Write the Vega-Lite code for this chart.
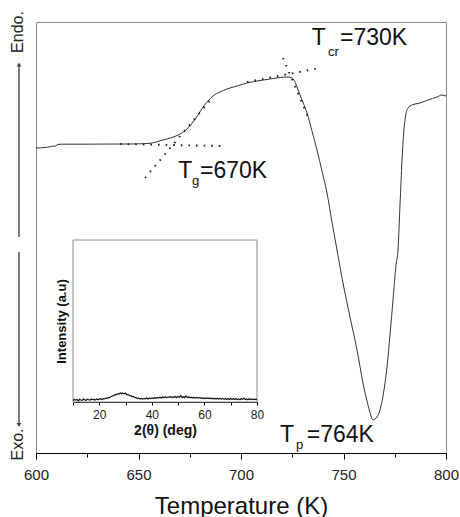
{
  "$schema": "https://vega.github.io/schema/vega-lite/v6.json",
  "width": 410,
  "height": 431,
  "autosize": {"type": "none"},
  "padding": {"left": 36, "top": 22, "right": 14, "bottom": 64},
  "background": "white",
  "config": {
    "view": {"stroke": "#8c8c8c", "strokeWidth": 1},
    "font": "Liberation Sans",
    "axis": {"grid": false, "labelFont": "Liberation Sans", "titleFont": "Liberation Sans", "labelFlush": false, "labelOverlap": false}
  },
  "datasets": {
    "dsc": [
      {"T": 600.0, "v": 305}, {"T": 604.39, "v": 305.5}, {"T": 606.83, "v": 306.2}, {"T": 608.29, "v": 307},
      {"T": 609.27, "v": 306.7}, {"T": 610.24, "v": 308}, {"T": 611.22, "v": 308.7}, {"T": 612.68, "v": 308.8},
      {"T": 621.46, "v": 308.8}, {"T": 631.22, "v": 308.9}, {"T": 640.98, "v": 309}, {"T": 645.85, "v": 309},
      {"T": 650.73, "v": 309.2}, {"T": 655.61, "v": 309.7}, {"T": 659.02, "v": 311.2}, {"T": 661.95, "v": 313},
      {"T": 666.34, "v": 315.5}, {"T": 670.24, "v": 319}, {"T": 673.66, "v": 324}, {"T": 676.59, "v": 331},
      {"T": 679.02, "v": 338}, {"T": 681.46, "v": 346}, {"T": 683.9, "v": 352}, {"T": 686.34, "v": 357},
      {"T": 689.76, "v": 361}, {"T": 693.17, "v": 364}, {"T": 698.05, "v": 367}, {"T": 702.93, "v": 370},
      {"T": 709.27, "v": 372.5}, {"T": 714.15, "v": 374}, {"T": 719.02, "v": 375.5}, {"T": 722.44, "v": 376},
      {"T": 724.39, "v": 375.5}, {"T": 725.85, "v": 373}, {"T": 727.32, "v": 366}, {"T": 728.78, "v": 358},
      {"T": 729.76, "v": 353}, {"T": 732.2, "v": 340}, {"T": 734.63, "v": 322}, {"T": 737.07, "v": 303},
      {"T": 739.51, "v": 282}, {"T": 741.95, "v": 260}, {"T": 744.39, "v": 231}, {"T": 746.83, "v": 203},
      {"T": 749.76, "v": 170}, {"T": 753.17, "v": 136}, {"T": 756.59, "v": 103}, {"T": 759.51, "v": 70},
      {"T": 761.95, "v": 48}, {"T": 763.41, "v": 37}, {"T": 764.39, "v": 33}, {"T": 765.37, "v": 34},
      {"T": 766.34, "v": 36}, {"T": 767.8, "v": 43}, {"T": 769.76, "v": 63}, {"T": 771.22, "v": 86},
      {"T": 772.68, "v": 118}, {"T": 774.15, "v": 153}, {"T": 775.61, "v": 188}, {"T": 776.59, "v": 203},
      {"T": 777.56, "v": 248}, {"T": 778.54, "v": 293}, {"T": 779.27, "v": 318}, {"T": 780.0, "v": 333},
      {"T": 781.46, "v": 345}, {"T": 783.41, "v": 348}, {"T": 787.32, "v": 350}, {"T": 791.22, "v": 353},
      {"T": 795.61, "v": 356}, {"T": 798.05, "v": 358}, {"T": 799.0, "v": 357.5}, {"T": 800.0, "v": 357}
    ],
    "tangents": [
      {"line": "g-base", "T": 640.98, "v": 309}, {"line": "g-base", "T": 690.73, "v": 307},
      {"line": "g-slope", "T": 653.17, "v": 275}, {"line": "g-slope", "T": 686.34, "v": 356},
      {"line": "cr-plateau", "T": 702.93, "v": 371}, {"line": "cr-plateau", "T": 738.54, "v": 385},
      {"line": "cr-steep", "T": 720.49, "v": 395}, {"line": "cr-steep", "T": 732.68, "v": 336}
    ],
    "labels": [
      {"T": 669.41, "v": 274.7, "t": "T"}, {"T": 680.0, "v": 274.7, "t": "=670K"},
      {"T": 734.49, "v": 408, "t": "T"}, {"T": 748.29, "v": 408, "t": "=730K"},
      {"T": 719.02, "v": 11.3, "t": "T"}, {"T": 732.05, "v": 11.3, "t": "=764K"}
    ],
    "subs": [
      {"T": 676.1, "v": 268, "t": "g"}, {"T": 742.44, "v": 397, "t": "cr"}, {"T": 726.83, "v": 4, "t": "p"}
    ],
    "side": [
      {"T": 591.46, "v": 421, "t": "Endo."}, {"T": 591.46, "v": 8.5, "t": "Exo."}
    ],
    "arrows": [
      {"T": 591.71, "v": 216, "v2": 389}, {"T": 591.71, "v": 201, "v2": 28}
    ],
    "xrd": [
      {"a": 10, "i": 1.5}, {"a": 10.5, "i": 2.6}, {"a": 11, "i": 1.8}, {"a": 11.5, "i": 2.4}, {"a": 12, "i": 1.2},
      {"a": 12.5, "i": 2.7}, {"a": 13, "i": 2.0}, {"a": 13.5, "i": 1.6}, {"a": 14, "i": 2.9}, {"a": 14.5, "i": 2.1},
      {"a": 15, "i": 1.7}, {"a": 15.5, "i": 2.8}, {"a": 16, "i": 2.2}, {"a": 16.5, "i": 1.9}, {"a": 17, "i": 3.0},
      {"a": 17.5, "i": 2.3}, {"a": 18, "i": 2.6}, {"a": 18.5, "i": 1.9}, {"a": 19, "i": 3.1}, {"a": 19.5, "i": 2.4},
      {"a": 20, "i": 2.8}, {"a": 20.5, "i": 3.3}, {"a": 21, "i": 2.5}, {"a": 21.5, "i": 3.4}, {"a": 22, "i": 3.0},
      {"a": 22.5, "i": 3.9}, {"a": 23, "i": 3.5}, {"a": 23.5, "i": 4.6}, {"a": 24, "i": 4.3}, {"a": 24.5, "i": 5.4},
      {"a": 25, "i": 5.9}, {"a": 25.5, "i": 6.3}, {"a": 26, "i": 7.4}, {"a": 26.5, "i": 7.0}, {"a": 27, "i": 8.3},
      {"a": 27.5, "i": 7.8}, {"a": 28, "i": 9.1}, {"a": 28.5, "i": 8.2}, {"a": 29, "i": 9.0}, {"a": 29.5, "i": 8.0},
      {"a": 30, "i": 8.6}, {"a": 30.5, "i": 7.2}, {"a": 31, "i": 7.6}, {"a": 31.5, "i": 6.3}, {"a": 32, "i": 6.4},
      {"a": 32.5, "i": 5.2}, {"a": 33, "i": 5.5}, {"a": 33.5, "i": 4.3}, {"a": 34, "i": 4.6}, {"a": 34.5, "i": 3.5},
      {"a": 35, "i": 3.9}, {"a": 35.5, "i": 3.0}, {"a": 36, "i": 3.6}, {"a": 36.5, "i": 2.8}, {"a": 37, "i": 3.4},
      {"a": 37.5, "i": 3.1}, {"a": 38, "i": 3.9}, {"a": 38.5, "i": 3.0}, {"a": 39, "i": 3.7}, {"a": 39.5, "i": 3.3},
      {"a": 40, "i": 4.1}, {"a": 40.5, "i": 3.4}, {"a": 41, "i": 4.2}, {"a": 41.5, "i": 3.6}, {"a": 42, "i": 4.5},
      {"a": 42.5, "i": 3.8}, {"a": 43, "i": 4.7}, {"a": 43.5, "i": 4.0}, {"a": 44, "i": 5.0}, {"a": 44.5, "i": 4.1},
      {"a": 45, "i": 5.2}, {"a": 45.5, "i": 4.3}, {"a": 46, "i": 4.9}, {"a": 46.5, "i": 4.5}, {"a": 47, "i": 5.4},
      {"a": 47.5, "i": 4.2}, {"a": 48, "i": 5.1}, {"a": 48.5, "i": 4.6}, {"a": 49, "i": 5.5}, {"a": 49.5, "i": 4.4},
      {"a": 50, "i": 5.3}, {"a": 50.5, "i": 4.7}, {"a": 51, "i": 6.2}, {"a": 51.5, "i": 4.5}, {"a": 52, "i": 5.2},
      {"a": 52.5, "i": 4.3}, {"a": 53, "i": 6.0}, {"a": 53.5, "i": 4.4}, {"a": 54, "i": 5.0}, {"a": 54.5, "i": 4.2},
      {"a": 55, "i": 4.8}, {"a": 55.5, "i": 4.0}, {"a": 56, "i": 4.7}, {"a": 56.5, "i": 3.8}, {"a": 57, "i": 4.5},
      {"a": 57.5, "i": 3.9}, {"a": 58, "i": 4.4}, {"a": 58.5, "i": 3.6}, {"a": 59, "i": 4.3}, {"a": 59.5, "i": 3.5},
      {"a": 60, "i": 4.1}, {"a": 60.5, "i": 3.4}, {"a": 61, "i": 4.0}, {"a": 61.5, "i": 3.3}, {"a": 62, "i": 3.9},
      {"a": 62.5, "i": 3.1}, {"a": 63, "i": 3.8}, {"a": 63.5, "i": 3.2}, {"a": 64, "i": 3.6}, {"a": 64.5, "i": 2.9},
      {"a": 65, "i": 3.7}, {"a": 65.5, "i": 2.8}, {"a": 66, "i": 3.5}, {"a": 66.5, "i": 2.9}, {"a": 67, "i": 3.4},
      {"a": 67.5, "i": 2.6}, {"a": 68, "i": 3.5}, {"a": 68.5, "i": 2.7}, {"a": 69, "i": 3.3}, {"a": 69.5, "i": 2.5},
      {"a": 70, "i": 3.4}, {"a": 70.5, "i": 2.6}, {"a": 71, "i": 3.2}, {"a": 71.5, "i": 2.4}, {"a": 72, "i": 3.5},
      {"a": 72.5, "i": 2.5}, {"a": 73, "i": 3.1}, {"a": 73.5, "i": 2.3}, {"a": 74, "i": 3.3}, {"a": 74.5, "i": 2.6},
      {"a": 75, "i": 3.9}, {"a": 75.5, "i": 2.4}, {"a": 76, "i": 3.0}, {"a": 76.5, "i": 2.2}, {"a": 77, "i": 3.2},
      {"a": 77.5, "i": 2.5}, {"a": 78, "i": 3.0}, {"a": 78.5, "i": 2.3}, {"a": 79, "i": 3.1}, {"a": 79.5, "i": 2.4},
      {"a": 80, "i": 2.8}
    ],
    "insetFrame": [{"a0": 10, "a1": 80, "i0": 0, "i1": 160}]
  },
  "resolve": {
    "scale": {"x": "independent", "y": "independent"},
    "axis": {"x": "independent", "y": "independent"}
  },
  "layer": [
    {
      "data": {"name": "dsc"},
      "mark": {"type": "line", "color": "#333", "strokeWidth": 1, "interpolate": "monotone"},
      "encoding": {
        "x": {
          "field": "T", "type": "quantitative",
          "scale": {"domain": [600, 800], "nice": false, "zero": false},
          "axis": {
            "orient": "bottom", "title": "Temperature (K)", "values": [600, 650, 700, 750, 800],
            "tickSize": 6, "tickColor": "#000", "domainColor": "#000", "domainWidth": 1.2,
            "labelFontSize": 15, "labelColor": "#222", "labelPadding": 8,
            "titleFontSize": 24, "titleFontWeight": "normal", "titleColor": "#111", "titlePadding": 12
          }
        },
        "y": {
          "field": "v", "type": "quantitative",
          "scale": {"domain": [0, 431], "nice": false, "zero": false},
          "axis": null
        }
      }
    },
    {
      "data": {"name": "tangents"},
      "mark": {"type": "line", "color": "#222", "strokeWidth": 1.9, "strokeDash": [1.6, 6], "strokeCap": "butt"},
      "encoding": {
        "x": {
          "field": "T", "type": "quantitative",
          "scale": {"domain": [600, 800], "nice": false, "zero": false},
          "axis": {
            "orient": "bottom", "title": null, "values": [625, 675, 725, 775], "labels": false,
            "domain": false, "tickSize": 4, "tickColor": "#000"
          }
        },
        "y": {
          "field": "v", "type": "quantitative",
          "scale": {"domain": [0, 431], "nice": false, "zero": false},
          "axis": null
        },
        "detail": {"field": "line"}
      }
    },
    {
      "data": {"name": "labels"},
      "mark": {"type": "text", "fontSize": 23, "align": "left", "baseline": "alphabetic", "color": "#111"},
      "encoding": {
        "x": {"field": "T", "type": "quantitative", "scale": {"domain": [600, 800], "nice": false, "zero": false}, "axis": null},
        "y": {"field": "v", "type": "quantitative", "scale": {"domain": [0, 431], "nice": false, "zero": false}, "axis": null},
        "text": {"field": "t"}
      }
    },
    {
      "data": {"name": "subs"},
      "mark": {"type": "text", "fontSize": 13, "align": "left", "baseline": "alphabetic", "color": "#111"},
      "encoding": {
        "x": {"field": "T", "type": "quantitative", "scale": {"domain": [600, 800], "nice": false, "zero": false}, "axis": null},
        "y": {"field": "v", "type": "quantitative", "scale": {"domain": [0, 431], "nice": false, "zero": false}, "axis": null},
        "text": {"field": "t"}
      }
    },
    {
      "data": {"name": "side"},
      "mark": {"type": "text", "fontSize": 16, "angle": 270, "align": "center", "baseline": "middle", "color": "#222"},
      "encoding": {
        "x": {"field": "T", "type": "quantitative", "scale": {"domain": [600, 800], "nice": false, "zero": false}, "axis": null},
        "y": {"field": "v", "type": "quantitative", "scale": {"domain": [0, 431], "nice": false, "zero": false}, "axis": null},
        "text": {"field": "t"}
      }
    },
    {
      "data": {"name": "arrows"},
      "mark": {"type": "rule", "color": "#555", "strokeWidth": 1.5},
      "encoding": {
        "x": {"field": "T", "type": "quantitative", "scale": {"domain": [600, 800], "nice": false, "zero": false}, "axis": null},
        "y": {"field": "v", "type": "quantitative", "scale": {"domain": [0, 431], "nice": false, "zero": false}, "axis": null},
        "y2": {"field": "v2"}
      }
    },
    {
      "data": {"values": [{"T": 591.71, "v": 388.5}]},
      "mark": {"type": "point", "shape": "triangle-up", "filled": true, "size": 22, "color": "#444", "opacity": 1},
      "encoding": {
        "x": {"field": "T", "type": "quantitative", "scale": {"domain": [600, 800], "nice": false, "zero": false}, "axis": null},
        "y": {"field": "v", "type": "quantitative", "scale": {"domain": [0, 431], "nice": false, "zero": false}, "axis": null}
      }
    },
    {
      "data": {"values": [{"T": 591.71, "v": 28}]},
      "mark": {"type": "point", "shape": "triangle-down", "filled": true, "size": 22, "color": "#444", "opacity": 1},
      "encoding": {
        "x": {"field": "T", "type": "quantitative", "scale": {"domain": [600, 800], "nice": false, "zero": false}, "axis": null},
        "y": {"field": "v", "type": "quantitative", "scale": {"domain": [0, 431], "nice": false, "zero": false}, "axis": null}
      }
    },
    {
      "data": {"name": "insetFrame"},
      "mark": {"type": "rect", "fill": "white", "stroke": "#8c8c8c", "strokeWidth": 1},
      "encoding": {
        "x": {"field": "a0", "type": "quantitative", "scale": {"domain": [10, 80], "range": [37, 221], "nice": false, "zero": false}, "axis": null},
        "x2": {"field": "a1"},
        "y": {"field": "i0", "type": "quantitative", "scale": {"domain": [0, 160], "range": [380, 218], "nice": false, "zero": false}, "axis": null},
        "y2": {"field": "i1"}
      }
    },
    {
      "data": {"name": "xrd"},
      "mark": {"type": "line", "color": "#111", "strokeWidth": 1.2},
      "encoding": {
        "x": {
          "field": "a", "type": "quantitative",
          "scale": {"domain": [10, 80], "range": [37, 221], "nice": false, "zero": false},
          "axis": {
            "orient": "bottom", "offset": -51, "values": [10, 20, 30, 40, 50, 60, 70, 80],
            "labelExpr": "datum.value % 20 == 0 ? datum.label : ''",
            "tickSize": 3, "tickColor": "#000", "domainColor": "#000", "domainWidth": 1.2,
            "labelFontSize": 12, "labelColor": "#222", "labelPadding": 4,
            "title": "2(θ) (deg)", "titleFontSize": 14, "titleFontWeight": "bold", "titleColor": "#111", "titlePadding": 3
          }
        },
        "y": {
          "field": "i", "type": "quantitative",
          "scale": {"domain": [0, 160], "range": [380, 218], "nice": false, "zero": false},
          "axis": {
            "orient": "left", "offset": -37, "ticks": false, "labels": false, "domain": false,
            "title": "Intensity (a.u)", "titleFontSize": 13, "titleFontWeight": "bold", "titleColor": "#111", "titlePadding": 5
          }
        }
      }
    }
  ]
}
